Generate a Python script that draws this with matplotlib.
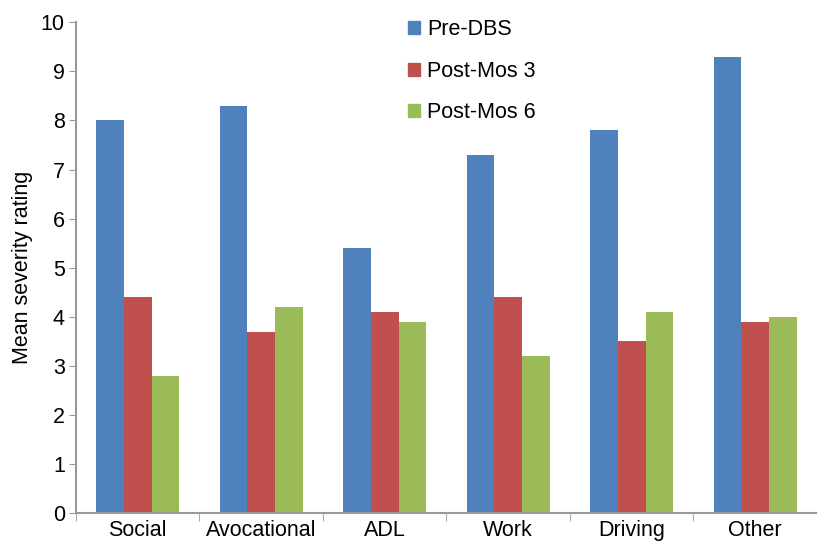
import numpy as np
import matplotlib.pyplot as plt
from matplotlib.patches import Patch

plt.rcParams['font.family'] = ['Liberation Sans', 'DejaVu Sans']

categories = ['Social', 'Avocational', 'ADL', 'Work', 'Driving', 'Other']
pre_dbs = [8.0, 8.3, 5.4, 7.3, 7.8, 9.3]
post_mos3 = [4.4, 3.7, 4.1, 4.4, 3.5, 3.9]
post_mos6 = [2.8, 4.2, 3.9, 3.2, 4.1, 4.0]
series_names = ['Pre-DBS', 'Post-Mos 3', 'Post-Mos 6']
colors = ['#4F81BD', '#C0504D', '#9BBB59']

fig = plt.figure(figsize=(8.17, 5.43), dpi=100)
ax = fig.add_axes([0.093, 0.055, 0.907, 0.904])

x = np.arange(len(categories))
w = 0.223
for i, (vals, c) in enumerate(zip([pre_dbs, post_mos3, post_mos6], colors)):
    ax.bar(x + (i - 1) * w, vals, w, color=c, edgecolor='none')

fs = 15.5
ax.set_xlim(-0.5, len(categories) - 0.5)
ax.set_ylim(0, 10)
ax.set_yticks(range(0, 11))
ax.set_xticks(x)
ax.set_xticklabels(categories)
ax.set_xticks(np.arange(-0.5, len(categories)), minor=True)
ax.tick_params(axis='x', which='major', length=0, labelsize=fs, pad=5)
ax.tick_params(axis='x', which='minor', length=6, color='#999999', direction='out')
ax.tick_params(axis='y', length=5, color='#999999', labelsize=fs, pad=3)
ax.set_ylabel('Mean severity rating', fontsize=fs, labelpad=6)

for s in ['top', 'right']:
    ax.spines[s].set_visible(False)
for s in ['left', 'bottom']:
    ax.spines[s].set_color('#999999')
    ax.spines[s].set_linewidth(1.5)

handles = [Patch(color=c) for c in colors]
fig.legend(handles, series_names, loc='upper left', bbox_to_anchor=(0.476, 1.0),
           frameon=False, fontsize=fs, handlelength=0.56, handleheight=0.56,
           handletextpad=0.3, labelspacing=0.95)

fig.savefig('out.png', dpi=100)
